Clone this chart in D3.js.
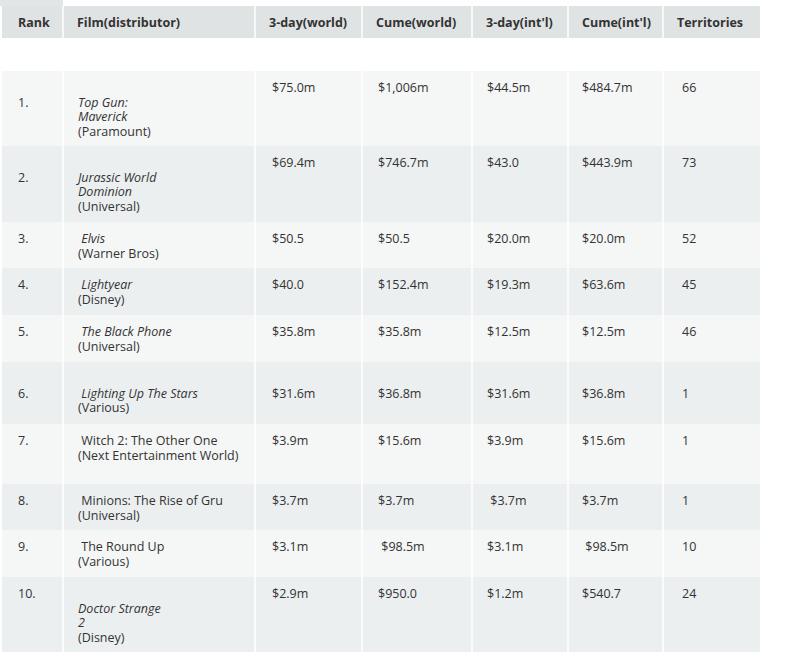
<!DOCTYPE html><html><head><meta charset="utf-8">
<script src="https://cdn.jsdelivr.net/npm/d3@7"></script>
<style>body{margin:0;background:#fff}text{font-family:"Open Sans",sans-serif;font-size:12.5px;fill:#333}</style></head><body>
<svg id="c" width="791" height="662"></svg>
<script>
const headers=["Rank","Film(distributor)","3-day(world)","Cume(world)","3-day(int'l)","Cume(int'l)","Territories"];
const ranks=["1.","2.","3.","4.","5.","6.","7.","8.","9.","10."];
const titles=[["","Top Gun:","Maverick"],["","Jurassic World","Dominion"],[" Elvis"],[" Lightyear"],[" The Black Phone"],[" Lighting Up The Stars"],[" Witch 2: The Other One"],[" Minions: The Rise of Gru"],[" The Round Up"],["","Doctor Strange","2"]];
const italicTitle=[true,true,true,true,true,true,false,false,false,true];
const distributors=["(Paramount)","(Universal)","(Warner Bros)","(Disney)","(Universal)","(Various)","(Next Entertainment World)","(Universal)","(Various)","(Disney)"];
const dayWorld=["$75.0m","$69.4m","$50.5","$40.0","$35.8m","$31.6m","$3.9m","$3.7m","$3.1m","$2.9m"];
const cumeWorld=["$1,006m","$746.7m","$50.5","$152.4m","$35.8m","$36.8m","$15.6m","$3.7m"," $98.5m","$950.0"];
const dayIntl=["$44.5m","$43.0","$20.0m","$19.3m","$12.5m","$31.6m","$3.9m"," $3.7m","$3.1m","$1.2m"];
const cumeIntl=["$484.7m","$443.9m","$20.0m","$63.6m","$12.5m","$36.8m","$15.6m","$3.7m"," $98.5m","$540.7"];
const territories=["66","73","52","45","46","1","1","1","10","24"];

const svg=d3.select("#c");
const colEdges=[2,63,255,362,472,568,663,760];
const rowEdges=[71,146,222,268,315,362,424,484,530,577,652];
const rankLine=[1,1,0,0,0,0,0,0,0,0];
const rowShift=[0,0,0,0,0,1,0,0,0,0];
const LH=14.5;
svg.append("rect").attr("x",0).attr("y",0).attr("width",63).attr("height",6).attr("fill","#e3e6e7");
svg.append("rect").attr("x",2).attr("y",6).attr("width",758).attr("height",32).attr("fill","#dfe3e4");
headers.forEach((h,i)=>svg.append("text").attr("x",i===0?18:colEdges[i]+14).attr("y",27).style("font-weight","bold").text(h));
const rows=ranks.map((r,i)=>({i,r}));
svg.selectAll("rect.row").data(rows).join("rect").attr("x",2).attr("y",d=>rowEdges[d.i]).attr("width",758).attr("height",d=>rowEdges[d.i+1]-rowEdges[d.i]).attr("fill",d=>d.i%2?"#eceff0":"#f5f6f6");
colEdges.slice(1,-1).forEach(xe=>svg.append("line").attr("x1",xe).attr("x2",xe).attr("y1",6).attr("y2",652).attr("stroke","#fff").attr("stroke-width",1.5));
svg.append("rect").attr("x",2).attr("y",38).attr("width",758).attr("height",33).attr("fill","#fff");
rows.forEach(({i,r})=>{
  const b=rowEdges[i]+21+rowShift[i]*LH;
  svg.append("text").attr("x",18).attr("y",b+rankLine[i]*LH).text(r);
  const lines=titles[i];
  lines.forEach((l,k)=>{ if(l) svg.append("text").attr("x",78).attr("y",b+k*LH).attr("font-style",italicTitle[i]?"italic":"normal").style("white-space","pre").text(l);});
  svg.append("text").attr("x",78).attr("y",b+lines.length*LH).text(distributors[i]);
  [[dayWorld,272],[cumeWorld,378],[dayIntl,487],[cumeIntl,582],[territories,682]].forEach(([arr,xx])=>
    svg.append("text").attr("x",xx).attr("y",b).style("white-space","pre").text(arr[i]));
});
</script></body></html>
